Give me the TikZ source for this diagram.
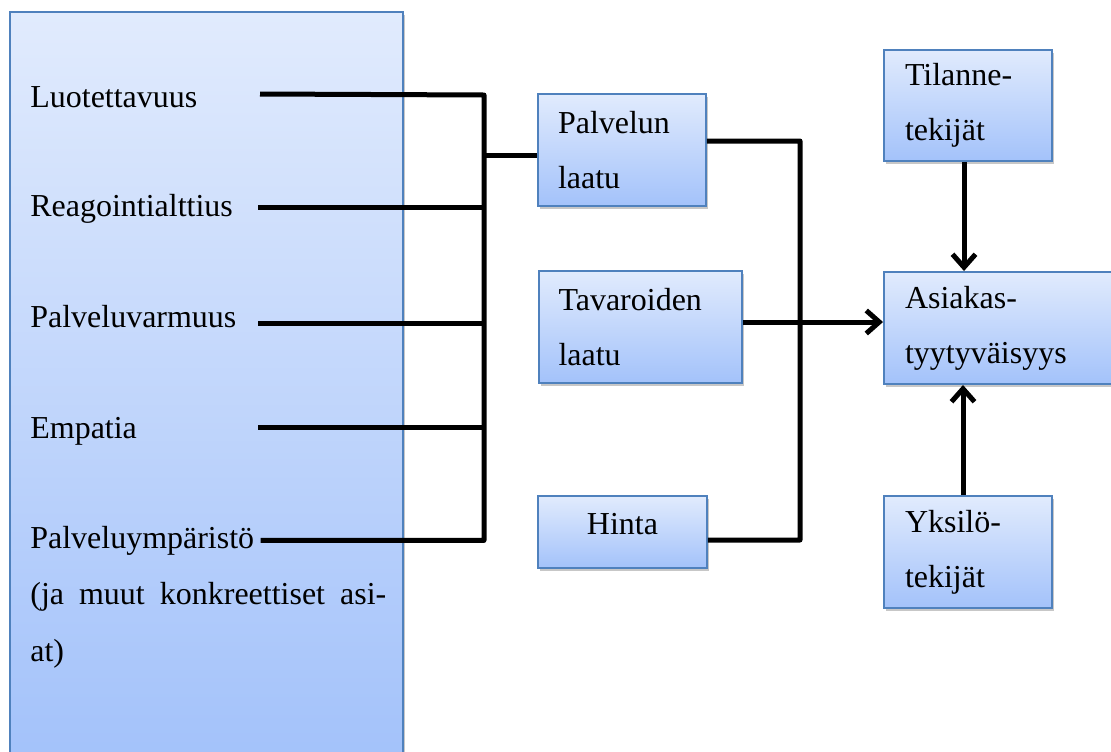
\documentclass[tikz,border=0pt]{standalone}
\usepackage{fontspec}
\setmainfont{Liberation Serif}
\usetikzlibrary{arrows.meta,shadows}

\definecolor{reuna}{RGB}{79,129,189}
\definecolor{ylavari}{RGB}{225,235,253}
\definecolor{alavari}{RGB}{163,194,250}
\newcommand{\kirjain}{\fontsize{18.2}{31.3}\selectfont}

\tikzset{
	varjo/.style={drop shadow={shadow xshift=0.04cm, shadow yshift=-0.06cm, opacity=0.22, fill=black}},
	laatikko/.style={draw=reuna, line width=0.04cm, top color=ylavari, bottom color=alavari, varjo,
		minimum height=2.24cm, inner xsep=0.4cm, inner ysep=0pt, align=left, font=\kirjain},
	teksti/.style={inner sep=0pt, anchor=base west, font=\kirjain},
	johto/.style={line width=0.1cm, line join=round},
	nuoli/.style={johto, -{Straight Barb[length=0.26cm, width=0.46cm]}}
}

\begin{document}
\begin{tikzpicture}[x=0.02cm, y=-0.02cm]
				\useasboundingbox (0,0) rectangle (1111,751);
				\clip (0,0) rectangle (1111,751);

				\node (Paneeli) [laatikko, minimum width=7.86cm, minimum height=14.96cm, inner sep=0pt] at (206.5,386) {};

				\node (Luotettavuus) [teksti] at (30,107) {Luotettavuus};
				\node (Reagointi) [teksti] at (30,216) {Reagointialttius};
				\node (Varmuus) [teksti] at (30,327) {Palveluvarmuus};
				\node (Empatia) [teksti] at (30,438) {Empatia};
				\node (Ymparisto) [teksti] at (30,548) {Palveluympäristö};
				\node (Lisa) [teksti, align=left, font=\fontsize{18.2}{57\dimexpr0.02cm\relax}\selectfont] at (30,661) {\hbox to 7.12cm{(ja\hfill muut\hfill konkreettiset\hfill asi-}\\at)};

				\coordinate (L1) at (260,94);
				\coordinate (L2) at (258,207);
				\coordinate (L3) at (258,323);
				\coordinate (L4) at (258,427);
				\coordinate (VasenYla) at (484,95);
				\draw [johto] (L1) -- (VasenYla) |- ([xshift=0.12cm]Ymparisto.east);
				\draw [johto] (L2) -- (L2 -| VasenYla);
				\draw [johto] (L3) -- (L3 -| VasenYla);
				\draw [johto] (L4) -- (L4 -| VasenYla);

				\node (Palvelu) [laatikko, text width=2.56cm] at (622,150) {Palvelun\\laatu};
				\draw [johto] ([yshift=-0.1cm]Palvelu.west) -- ([yshift=-0.1cm]Palvelu.west -| VasenYla);

				\node (Tavarat) [laatikko, text width=3.28cm] at (640.5,327) {Tavaroiden\\laatu};

				\node (Hinta) [laatikko, text width=2.58cm, align=center, minimum height=1.44cm, text depth=0.32cm] at (622.5,532) {Hinta};

				\node (Tilanne) [laatikko, text width=2.52cm, inner xsep=0.42cm] at (968,105.5) {Tilanne-\\tekijät};
				\node (Asiakas) [laatikko, text width=4cm, inner xsep=0.42cm] at (1005,328) {Asiakas-\\tyytyväisyys};
				\node (Yksilo) [laatikko, text width=2.52cm, inner xsep=0.42cm] at (968,552) {Yksilö-\\tekijät};

				\coordinate (OikeaAla) at (800,540);
				\draw [johto] ([yshift=0.18cm]Palvelu.east) -| (OikeaAla) -- ([yshift=-0.16cm]Hinta.east);
				\draw [nuoli] ([yshift=0.1cm]Tavarat.east) -- ([yshift=0.1cm]Tavarat.east -| Asiakas.west);

				\draw [nuoli] ([xshift=-0.08cm]Tilanne.south) -- ([xshift=-0.08cm]Tilanne.south |- Asiakas.north);
				\draw [nuoli] ([xshift=-0.1cm]Yksilo.north) -- ([xshift=-0.1cm]Yksilo.north |- Asiakas.south);
			\end{tikzpicture}
\end{document}
